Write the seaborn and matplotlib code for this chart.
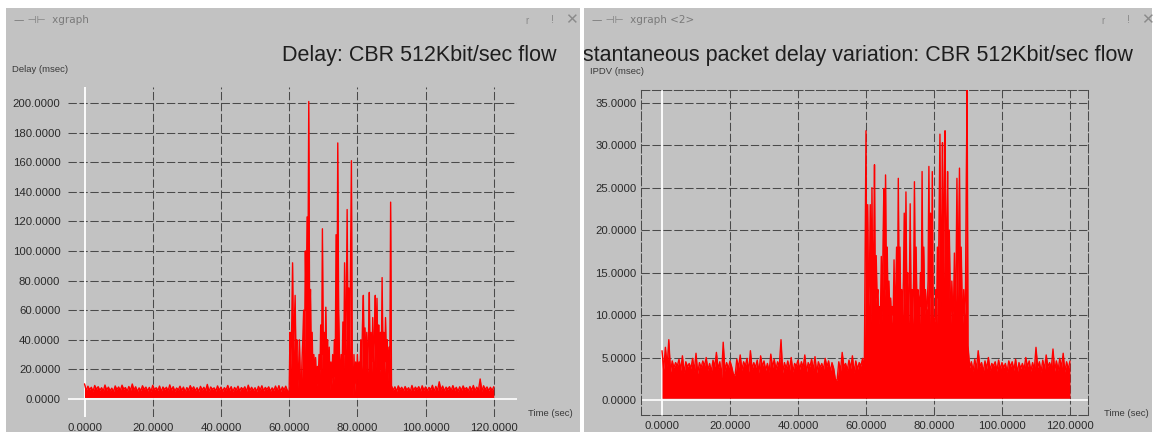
import numpy as np
import pandas as pd
import matplotlib
matplotlib.use("Agg")
import matplotlib.pyplot as plt
import seaborn as sns

# ---------------- data ----------------
# Left window: Delay (msec) of CBR 512Kbit/sec flow
# quiet band: per second a top value and the level of the notch after it
delay_hi_pre = [10.2, 8.6, 7.9, 9.1, 8.3, 7.6, 9.4, 8.0, 7.3, 8.8,
                8.1, 9.3, 7.7, 8.4, 10.1, 8.2, 7.5, 8.9, 8.0, 7.8,
                9.2, 7.6, 8.7, 8.1, 7.9, 9.5, 8.3, 7.4, 8.6, 8.0,
                7.7, 9.0, 8.2, 7.6, 8.5, 7.9, 9.8, 8.1, 7.5, 8.8,
                8.0, 7.6, 9.1, 8.3, 7.8, 8.6, 7.7, 8.2, 9.3, 7.9,
                7.6, 8.5, 8.9, 7.8, 8.2, 7.5, 8.7, 9.0, 8.1, 8.6]
delay_lo_pre = [5.6, 6.2, 5.1, 6.5, 5.8, 5.3, 6.0, 5.5, 4.9, 6.3,
                5.7, 6.6, 5.2, 5.9, 6.1, 5.0, 5.6, 6.4, 5.4, 5.1,
                6.2, 5.8, 5.0, 6.3, 5.5, 5.9, 5.2, 6.1, 5.7, 4.8,
                5.9, 6.4, 5.5, 5.1, 6.0, 5.6, 5.0, 6.5, 5.4, 5.8,
                5.2, 6.1, 5.7, 4.9, 6.0, 5.4, 6.3, 5.1, 5.9, 5.6,
                5.0, 6.0, 5.5, 6.4, 5.2, 5.8, 5.6, 5.0, 6.1, 5.5]
# burst 60..90 s, one value every 0.25 s
delay_burst = [5, 45, 20, 50,
               92, 30, 50, 70,
               25, 40, 8, 20,
               40, 15, 3, 25,
               40, 60, 30, 100,
               60, 123, 80, 201,
               50, 74, 20, 45,
               12, 30, 15, 28,
               8, 22, 10, 30,
               12, 50, 20, 115,
               30, 45, 20, 62,
               25, 40, 12, 35,
               6, 25, 10, 30,
               12, 40, 15, 111,
               40, 173, 60, 30,
               10, 30, 12, 52,
               20, 92, 30, 60,
               128, 40, 75, 30,
               100, 161, 20, 2,
               30, 5, 25, 10,
               30, 10, 25, 14,
               40, 20, 50, 70,
               25, 48, 20, 45,
               18, 40, 72, 20,
               45, 18, 55, 25,
               40, 70, 20, 68,
               30, 50, 18, 45,
               20, 82, 30, 45,
               18, 55, 25, 40,
               12, 35, 20, 133]
delay_hi_post = [9.0, 8.2, 8.8, 7.9, 8.4, 7.6, 9.1, 8.0, 8.3, 8.9,
                 8.1, 7.8, 9.2, 8.5, 11.6, 8.7, 8.0, 8.3, 9.0, 7.9,
                 8.2, 8.8, 7.7, 8.4, 9.1, 8.0, 13.5, 8.9, 8.1, 7.9, 8.3]
delay_lo_post = [5.8, 5.2, 6.3, 5.5, 6.0, 5.0, 5.7, 6.4, 5.3, 5.9,
                 5.5, 6.2, 5.0, 5.6, 6.1, 5.4, 6.5, 5.6, 5.9, 5.1,
                 5.7, 6.3, 5.3, 6.0, 5.5, 5.8, 5.2, 6.4, 5.6, 5.7]
delay_floor = 1.0

# Right window: IPDV (msec)
ipdv_hi_pre = [5.8, 6.2, 7.1, 4.6, 4.4, 4.8, 5.2, 4.5, 4.3, 4.9,
               5.5, 4.4, 4.6, 5.0, 4.3, 4.7, 5.6, 4.5, 6.8, 4.4,
               4.6, 3.0, 4.8, 5.3, 4.5, 4.9, 5.8, 4.4, 4.7, 5.2,
               4.6, 4.3, 5.4, 4.8, 4.5, 7.1, 4.4, 4.6, 5.0, 4.3,
               4.7, 4.5, 5.3, 4.4, 4.8, 5.1, 4.5, 4.3, 4.9, 4.6,
               4.4, 2.4, 4.5, 5.6, 4.3, 4.7, 5.2, 4.6, 4.4, 4.9]
ipdv_lo_pre = [3.6, 3.9, 3.3, 3.8, 4.0, 3.5, 3.2, 3.9, 3.7, 3.4,
               3.1, 3.8, 4.0, 3.5, 3.3, 3.9, 3.6, 2.6, 3.4, 3.7,
               3.9, 2.9, 3.8, 3.5, 4.0, 3.3, 3.6, 3.8, 3.2, 3.9,
               3.5, 3.3, 3.8, 3.6, 3.9, 3.2, 3.7, 3.5, 3.3, 4.0,
               3.6, 3.8, 3.3, 3.9, 3.5, 3.2, 3.8, 3.6, 3.9, 3.3,
               3.7, 2.3, 3.4, 3.9, 3.5, 3.7, 3.2, 3.6, 4.0, 3.4]
ipdv_burst = [31.7, 9, 23, 11,
              14, 23, 9, 25,
              11, 17, 27.7, 10,
              17, 12, 13, 9,
              11, 10, 16.9, 9,
              18, 24.9, 12, 26.5,
              13, 18, 10, 14,
              10, 12, 9, 11,
              10, 16.5, 9, 13,
              18, 11, 26.1, 12,
              18, 9, 13, 10,
              14, 22, 11, 24.5,
              12, 15, 9, 13,
              23.1, 11, 13, 9,
              14, 25.7, 12, 18,
              10, 13, 12, 9,
              15, 11, 26.9, 12,
              18, 10, 13, 10.6,
              11, 14, 27.5, 9,
              22, 12, 26.9, 10,
              9, 9.4, 13, 9,
              18, 12, 22, 31.3,
              11, 20, 30.3, 12,
              24, 31.7, 12, 20,
              26.9, 11, 20, 13,
              9, 14, 10.2, 11,
              17.3, 10, 15, 26.1,
              12, 20, 27.3, 10,
              18, 12, 9, 13,
              10, 12, 26, 36.8]
ipdv_hi_post = [6.4, 4.5, 4.8, 5.8, 4.4, 4.6, 5.0, 4.3, 4.5, 4.7,
                4.4, 4.3, 4.6, 4.5, 4.8, 4.4, 4.3, 5.0, 4.6, 4.4,
                6.2, 4.5, 4.7, 5.3, 4.4, 6.0, 4.6, 4.9, 5.5, 4.5, 4.6]
ipdv_lo_post = [3.8, 3.4, 3.6, 3.9, 3.3, 3.7, 3.5, 4.0, 3.4, 3.6,
                3.8, 3.3, 3.9, 3.5, 3.2, 3.7, 3.6, 3.9, 3.4, 3.5,
                3.8, 3.3, 3.6, 3.9, 3.7, 3.4, 3.5, 3.8, 3.3, 3.6]
ipdv_floor = 0.2

x_ticks = [0, 20, 40, 60, 80, 100, 120]
delay_ticks = [0, 20, 40, 60, 80, 100, 120, 140, 160, 180, 200]
ipdv_ticks = [0, 5, 10, 15, 20, 25, 30, 35]

burst_start, burst_end, burst_step = 60.0, 90.0, 0.25


def build_series(hi_pre, lo_pre, burst, hi_post, lo_post):
    t, v = [], []
    for i, (h, l) in enumerate(zip(hi_pre, lo_pre)):
        t += [i, i + 0.5]
        v += [h, l]
    for k, b in enumerate(burst):
        t.append(burst_start + k * burst_step)
        v.append(b)
    for i, (h, l) in enumerate(zip(hi_post, lo_post)):
        t += [burst_end + i, burst_end + i + 0.5]
        v += [h, l]
    t.append(burst_end + len(lo_post))
    v.append(hi_post[-1])
    return pd.DataFrame({"t": t, "v": v})


delay_df = build_series(delay_hi_pre, delay_lo_pre, delay_burst, delay_hi_post, delay_lo_post)
ipdv_df = build_series(ipdv_hi_pre, ipdv_lo_pre, ipdv_burst, ipdv_hi_post, ipdv_lo_post)

# ---------------- styling / layout ----------------
W, H = 1156, 432
sns.set_theme(style="white")
plt.rcParams["font.family"] = ["Liberation Sans", "DejaVu Sans"]

fig = plt.figure(figsize=(W / 100, H / 100), dpi=100, facecolor="white")


def rect(x0, y0, x1, y1):
    return [x0 / W, 1 - y1 / H, (x1 - x0) / W, (y1 - y0) / H]


def fpos(x, y):
    return x / W, 1 - y / H


WIN_GRAY = "#c2c2c2"
TXT = "#2a2a2a"
GRID = "#4a4a4a"
RED = "#ff0000"

win_l = fig.add_axes(rect(6, 8, 580, 432))
win_r = fig.add_axes(rect(584, 8, 1152, 432))
for w in (win_l, win_r):
    w.set_facecolor(WIN_GRAY)
    w.set_xticks([]); w.set_yticks([])
    for s in w.spines.values():
        s.set_visible(False)
    w.set_zorder(0)

# title bars
bar_kw = dict(fontsize=7.5, color="#7a7a7a", va="center", family=["DejaVu Sans"])
fig.text(*fpos(14, 20), "\u2014 \u22a3\u22a2  xgraph", ha="left", **bar_kw)
fig.text(*fpos(592, 20), "\u2014 \u22a3\u22a2  xgraph <2>", ha="left", **bar_kw)
for (xa, xb, xc) in ((527, 552, 571), (1103, 1128, 1147)):
    fig.text(*fpos(xa, 21), "r", ha="center", va="center", fontsize=7, color="#8a8a8a")
    fig.text(*fpos(xb, 20), "!", ha="center", va="center", fontsize=8, color="#8a8a8a")
    fig.text(*fpos(xc, 20), "\u2715", ha="center", va="center", fontsize=11, color="#8a8a8a",
             family=["DejaVu Sans"])

# titles
fig.text(*fpos(557, 56), "Delay: CBR 512Kbit/sec flow", ha="right", va="center",
         fontsize=15.5, color="#1e1e1e")
t2 = fig.text(*fpos(1133, 56), "Instantaneous packet delay variation: CBR 512Kbit/sec flow",
              ha="right", va="center", fontsize=15.5, color="#1e1e1e")
t2.set_clip_box(win_r.bbox)
t2.set_clip_on(True)

small = dict(fontsize=6.8, color="#3a3a3a")
fig.text(*fpos(12, 69), "Delay (msec)", ha="left", va="center", **small)
fig.text(*fpos(590, 71), "IPDV (msec)", ha="left", va="center", **small)
fig.text(*fpos(528, 413), "Time (sec)", ha="left", va="center", **small)
t3 = fig.text(*fpos(1104, 413), "Time (sec)", ha="left", va="center", **small)
t3.set_clip_box(win_r.bbox)
t3.set_clip_on(True)


def setup_axes(ax, xlim, ylim, yticks, ypad, xpad, frame):
    ax.set_facecolor("none")
    ax.set_xlim(*xlim)
    ax.set_ylim(*ylim)
    ax.set_xticks(x_ticks)
    ax.set_yticks(yticks)
    ax.set_xticklabels([f"{v:.4f}" for v in x_ticks])
    ax.set_yticklabels([f"{v:.4f}" for v in yticks])
    ax.tick_params(axis="y", length=0, pad=ypad, labelsize=8.2, labelcolor=TXT)
    ax.tick_params(axis="x", length=0, pad=xpad, labelsize=8.2, labelcolor=TXT)
    ax.set_xlabel(""); ax.set_ylabel("")
    for yv in yticks:
        if yv == 0:
            continue
        ax.axhline(yv, color=GRID, lw=0.75, ls=(0, (8, 2.5)), zorder=1)
    for xv in x_ticks:
        if xv == 0:
            continue
        ax.axvline(xv, color=GRID, lw=0.75, ls=(0, (8, 2.5)), zorder=1)
    ax.axhline(0, color="white", lw=1.2, zorder=1.5)
    ax.axvline(0, color="white", lw=1.3, zorder=1.5)
    for s in ax.spines.values():
        if frame:
            s.set_visible(True)
            s.set_color(GRID)
            s.set_linewidth(0.75)
            s.set_linestyle((0, (8, 2.5)))
        else:
            s.set_visible(False)
    ax.set_zorder(2)


def draw_series(ax, df, floor):
    ax.fill_between(df["t"], floor, df["v"], color=RED, lw=0, zorder=2.9)
    sns.lineplot(data=df, x="t", y="v", ax=ax, color=RED, lw=1.0,
                 sort=False, estimator=None, zorder=3)


# left plot: pixel x 68..517, y 87..417
ax_l = fig.add_axes(rect(68, 87, 517, 417))
draw_series(ax_l, delay_df, delay_floor)
setup_axes(ax_l, (-4.84, 126.8), (-12.2, 210.8), delay_ticks, 5.5, 4.0, False)

# right plot: pixel x 641..1088, y 90..415
ax_r = fig.add_axes(rect(641, 90, 1088, 415))
draw_series(ax_r, ipdv_df, ipdv_floor)
setup_axes(ax_r, (-6.18, 125.3), (-1.77, 36.5), ipdv_ticks, 3.0, 4.5, True)

fig.savefig("out.png", dpi=100, facecolor="white")
